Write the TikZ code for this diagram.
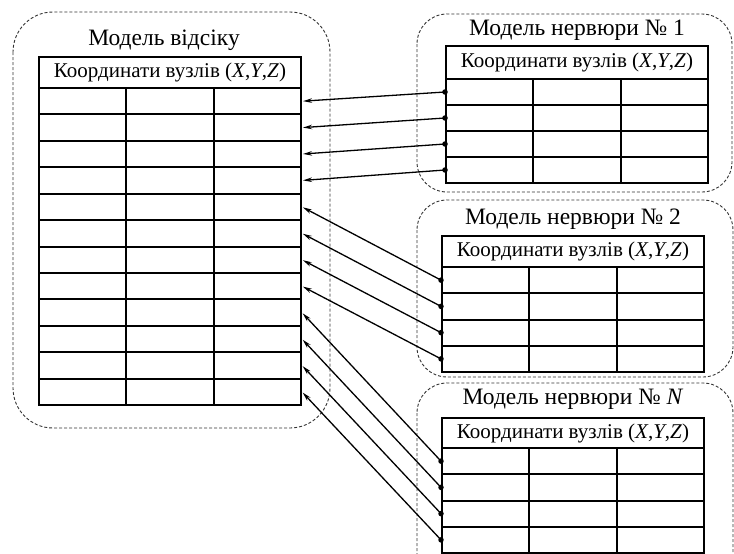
\documentclass[tikz,border=0pt]{standalone}
\usepackage{fontspec}
\setmainfont{Liberation Serif}
\usetikzlibrary{arrows.meta, positioning}
\tikzset{%
	cell/.style={draw, rectangle, line width=2pt, inner sep=0pt, anchor=north west,%
		minimum width=87.33pt},
	head/.style={draw, rectangle, line width=2pt, inner sep=0pt, anchor=north west,%
		minimum width=262pt, font=\fontsize{21}{21}\selectfont},
	title/.style={inner sep=0pt, font=\fontsize{23.5}{23.5}\selectfont},
	group/.style={draw=black!80, dash pattern=on 3pt off 2pt, line width=0.9pt, rounded corners=#1},
	group/.default=30pt,
	link/.style={-{Stealth[length=9pt,width=4.5pt]}, line width=1.3pt, shorten >=1pt},
	dot/.style={circle, fill, inner sep=0pt, minimum size=5.5pt}
}
\begin{document}
\begin{tikzpicture}[x=1pt, y=-1pt]
	\useasboundingbox (0,0) rectangle (734,554);
	\clip (0,0) rectangle (734,554);

	% dashed groups
	\draw[group=40pt] (13,12)  rectangle (330,428);
	\draw[group]      (417,14) rectangle (732,192);
	\draw[group]      (417,200) rectangle (733,377);
	\draw[group]      (417,383) rectangle (733,620);

	% model of the compartment
	\node[head, minimum height=31pt] (L-head) at (38,56) {Координати вузлів (\textit{X},\textit{Y},\textit{Z})};
	\node[title, above=5pt of L-head, xshift=-6pt] (L-title) {Модель відсіку};
	\foreach \i in {1,...,12}
		\foreach \j in {1,2,3}
			\node[cell, minimum height=26.42pt] (L-\i-\j) at ({38+(\j-1)*87.33},{87+(\i-1)*26.42}) {};

	% rib models
	\node[head, minimum height=33pt] (R1-head) at (445,45) {Координати вузлів (\textit{X},\textit{Y},\textit{Z})};
	\node[title, above=4pt of R1-head] (R1-title) {Модель нервюри №~1};
	\node[head, minimum height=31pt] (R2-head) at (441,235) {Координати вузлів (\textit{X},\textit{Y},\textit{Z})};
	\node[title, above=5pt of R2-head] (R2-title) {Модель нервюри №~2};
	\node[head, minimum height=30pt] (RN-head) at (441,417) {Координати вузлів (\textit{X},\textit{Y},\textit{Z})};
	\node[title, above=7pt of RN-head] (RN-title) {Модель нервюри №~\textit{N}};
	\foreach \i in {1,...,4}
		\foreach \j in {1,2,3} {
			\node[cell, minimum height=26pt]    (R1-\i-\j) at ({445+(\j-1)*87.33},{78+(\i-1)*26}) {};
			\node[cell, minimum height=26.25pt] (R2-\i-\j) at ({441+(\j-1)*87.33},{266+(\i-1)*26.25}) {};
			\node[cell, minimum height=26.25pt] (RN-\i-\j) at ({441+(\j-1)*87.33},{447+(\i-1)*26.25}) {};
		}

	% links
	\foreach \i/\k in {1/1, 2/2, 3/3, 4/4} {
		\draw[link] (R1-\i-1.west) -- (L-\k-3.east);
		\node[dot] (d1-\i) at (R1-\i-1.west) {};
	}
	\foreach \i/\k in {1/5, 2/6, 3/7, 4/8} {
		\draw[link] (R2-\i-1.west) -- (L-\k-3.east);
		\node[dot] (d2-\i) at (R2-\i-1.west) {};
	}
	\foreach \i/\k in {1/9, 2/10, 3/11, 4/12} {
		\draw[link] (RN-\i-1.west) -- (L-\k-3.east);
		\node[dot] (dN-\i) at (RN-\i-1.west) {};
	}
\end{tikzpicture}
\end{document}
